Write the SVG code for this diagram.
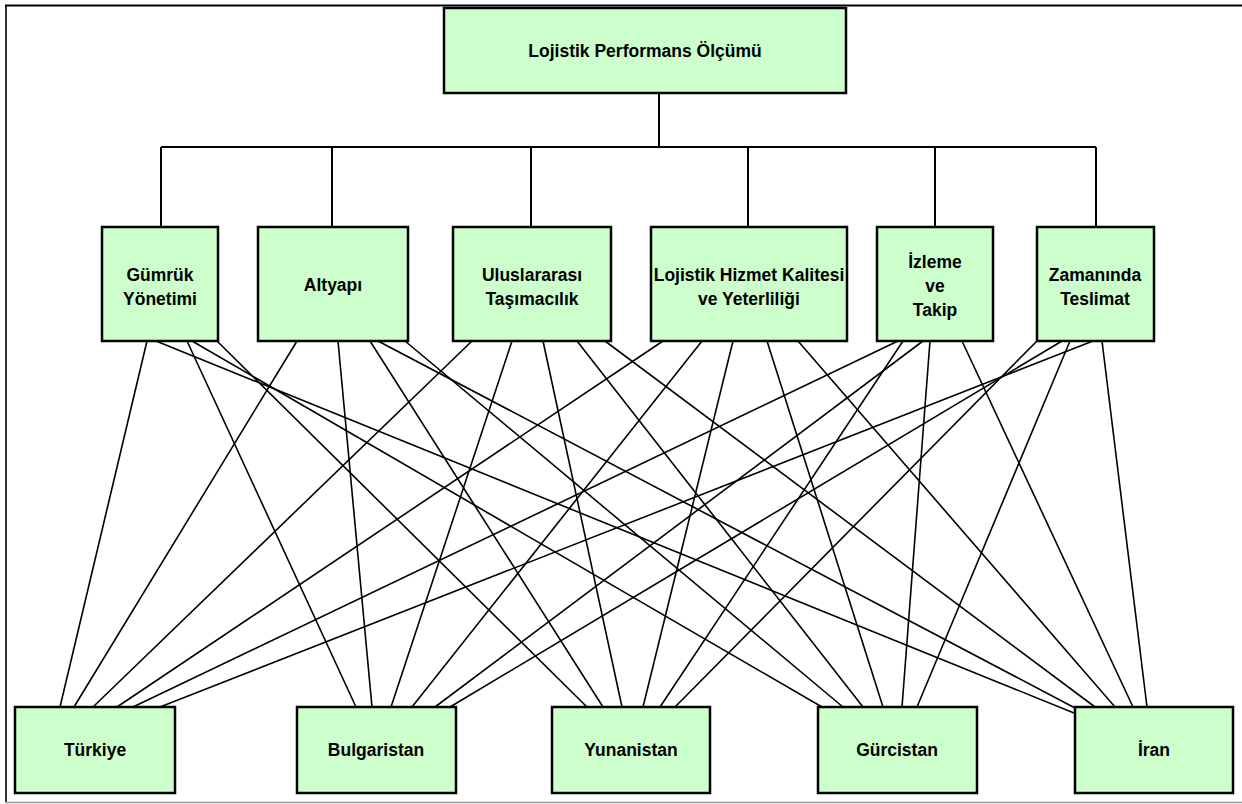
<svg xmlns="http://www.w3.org/2000/svg" width="1242" height="804" viewBox="0 0 1242 804">
<style>
.box{fill:#ccffcc;stroke:#000;stroke-width:2.5}
.lbl{font-family:"Liberation Sans",Arial,sans-serif;font-weight:bold;font-size:17.5px;fill:#000;text-anchor:middle}
.tree{stroke:#000;stroke-width:2;fill:none}
.ln{stroke:#000;stroke-width:1.6;fill:none}
</style>
<rect x="0" y="0" width="1242" height="804" fill="#fff"/>
<g id="frame">
<line x1="5" y1="5.5" x2="1242" y2="5.5" stroke="#000" stroke-width="2"/>
<line x1="6" y1="5" x2="6" y2="803" stroke="#000" stroke-width="1.6"/>
<line x1="5" y1="802.5" x2="1242" y2="802.5" stroke="#999" stroke-width="1.5"/>
</g>
<g id="connectors">
<path class="tree" d="M659 94V147M161 147H1096M161 147V227M332 147V227M531 147V227M748 147V227M935 147V227M1096 147V227"/>
<g class="ln">
<line x1="147" y1="341" x2="60" y2="707"/>
<line x1="156" y1="341" x2="1074" y2="713"/>
<line x1="187" y1="341" x2="356" y2="707"/>
<line x1="192" y1="341" x2="822" y2="707"/>
<line x1="217" y1="341" x2="587" y2="707"/>
<line x1="297" y1="341" x2="74" y2="707"/>
<line x1="338" y1="341" x2="372" y2="707"/>
<line x1="370" y1="341" x2="603" y2="707"/>
<line x1="405" y1="341" x2="843" y2="707"/>
<line x1="378" y1="341" x2="1075" y2="708"/>
<line x1="472" y1="341" x2="93" y2="707"/>
<line x1="512" y1="341" x2="391" y2="707"/>
<line x1="543" y1="341" x2="622" y2="707"/>
<line x1="577" y1="341" x2="863" y2="707"/>
<line x1="605" y1="341" x2="1095" y2="707"/>
<line x1="663" y1="341" x2="117" y2="707"/>
<line x1="702" y1="341" x2="412" y2="707"/>
<line x1="733" y1="341" x2="643" y2="707"/>
<line x1="767" y1="341" x2="883" y2="707"/>
<line x1="798" y1="341" x2="1115" y2="707"/>
<line x1="898" y1="341" x2="133" y2="707"/>
<line x1="923" y1="341" x2="435" y2="707"/>
<line x1="903" y1="341" x2="660" y2="707"/>
<line x1="930" y1="341" x2="902" y2="707"/>
<line x1="962" y1="341" x2="1133" y2="707"/>
<line x1="1093" y1="341" x2="160" y2="707"/>
<line x1="1062" y1="341" x2="450" y2="707"/>
<line x1="1037" y1="341" x2="675" y2="707"/>
<line x1="1070" y1="341" x2="917" y2="707"/>
<line x1="1102" y1="341" x2="1147" y2="707"/>
</g>
</g>
<g id="n-top"><rect class="box" x="444" y="8" width="402" height="85"/><text class="lbl" x="645" y="57">Lojistik Performans Ölçümü</text></g>
<g id="n-gumruk"><rect class="box" x="102" y="227" width="116" height="114"/><text class="lbl" x="160" y="281">Gümrük</text><text class="lbl" x="160" y="305">Yönetimi</text></g>
<g id="n-altyapi"><rect class="box" x="258" y="227" width="150" height="114"/><text class="lbl" x="333" y="291">Altyapı</text></g>
<g id="n-ulus"><rect class="box" x="453" y="227" width="158" height="114"/><text class="lbl" x="532" y="281">Uluslararası</text><text class="lbl" x="532" y="305">Taşımacılık</text></g>
<g id="n-lojh"><rect class="box" x="651" y="227" width="196" height="114"/><text class="lbl" x="749" y="281">Lojistik Hizmet Kalitesi</text><text class="lbl" x="749" y="305">ve Yeterliliği</text></g>
<g id="n-izleme"><rect class="box" x="877" y="227" width="116" height="114"/><text class="lbl" x="935" y="268">İzleme</text><text class="lbl" x="935" y="292">ve</text><text class="lbl" x="935" y="316">Takip</text></g>
<g id="n-zaman"><rect class="box" x="1037" y="227" width="117" height="114"/><text class="lbl" x="1095" y="281">Zamanında</text><text class="lbl" x="1095" y="305">Teslimat</text></g>
<g id="n-turkiye"><rect class="box" x="15" y="707" width="160" height="86"/><text class="lbl" x="95" y="756">Türkiye</text></g>
<g id="n-bulgaristan"><rect class="box" x="297" y="707" width="159" height="86"/><text class="lbl" x="376" y="756">Bulgaristan</text></g>
<g id="n-yunanistan"><rect class="box" x="552" y="707" width="158" height="86"/><text class="lbl" x="631" y="756">Yunanistan</text></g>
<g id="n-gurcistan"><rect class="box" x="818" y="707" width="159" height="86"/><text class="lbl" x="897" y="756">Gürcistan</text></g>
<g id="n-iran"><rect class="box" x="1075" y="707" width="158" height="86"/><text class="lbl" x="1154" y="756">İran</text></g>
</svg>
